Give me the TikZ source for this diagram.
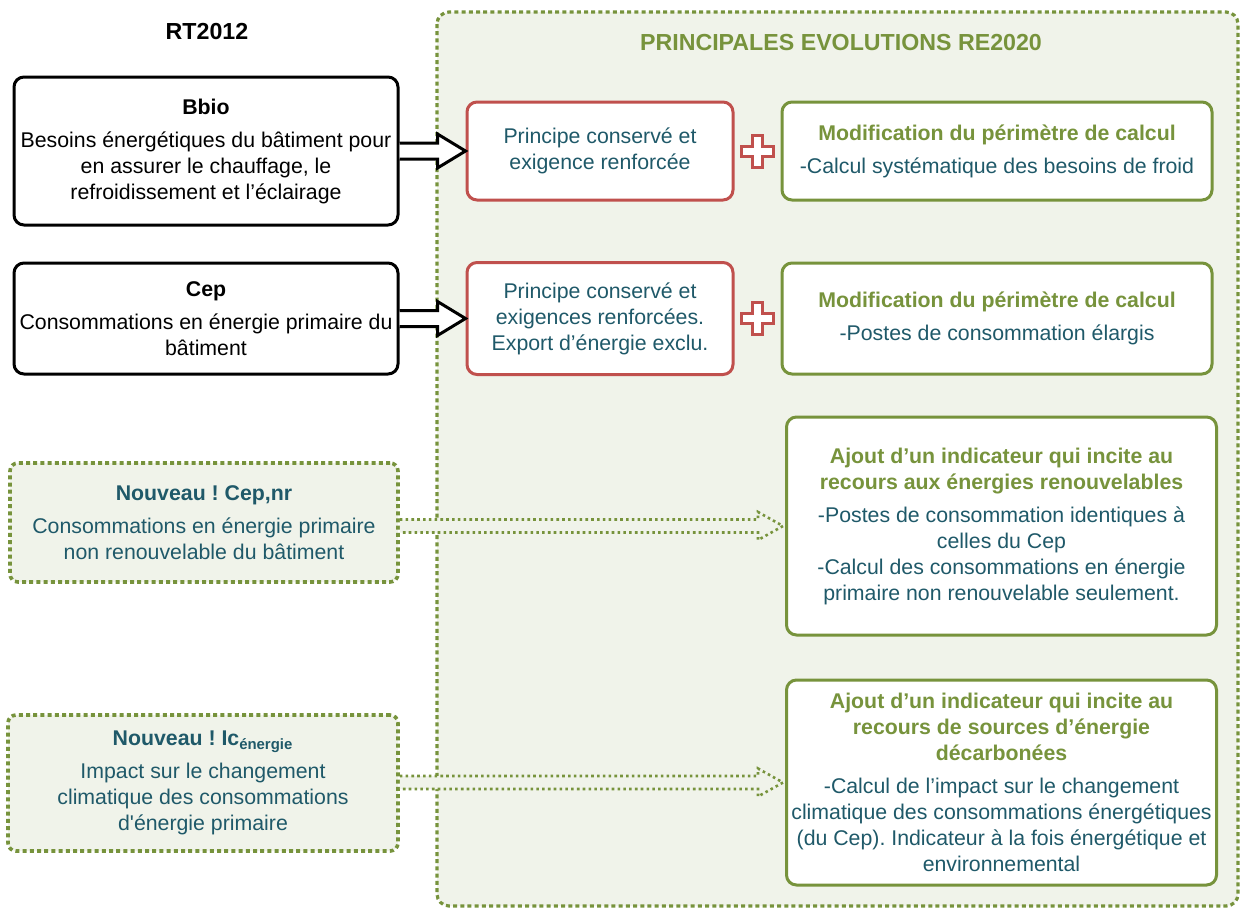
\documentclass[tikz,border=0pt]{standalone}
\usepackage{fontspec}
\setmainfont{Liberation Sans}
\usetikzlibrary{positioning, calc}
\definecolor{vertre}{RGB}{119,147,60}
\definecolor{rougert}{RGB}{192,80,77}
\definecolor{bleutxt}{RGB}{31,89,105}
\definecolor{fondvert}{RGB}{240,243,234}
\newcommand{\vtitre}[1]{{\bfseries\color{vertre}#1}}
\frenchspacing

\begin{document}
\begin{tikzpicture}[
    x=0.5pt, y=-0.5pt,
    font=\fontsize{10.65}{13}\selectfont,
    every node/.style={align=center, inner sep=0pt},
    titre/.style={font=\fontsize{11.6}{14}\selectfont\bfseries},
    ancien/.style={draw=black, line width=1.5pt, rounded corners=5pt, fill=white, minimum width=192pt},
    exigence/.style={draw=rougert, line width=1.5pt, rounded corners=5pt, fill=white, text=bleutxt, minimum width=133pt},
    evolution/.style={draw=vertre, line width=1.5pt, rounded corners=5pt, fill=white, text=bleutxt, minimum width=215pt},
    nouveau/.style={draw=vertre, line width=1.8pt, dash pattern=on 2pt off 1.6pt, rounded corners=4pt, fill=fondvert, text=bleutxt},
    panneau/.style={draw=vertre, line width=1.6pt, dash pattern=on 2pt off 1.6pt, rounded corners=6pt, fill=fondvert},
    grosse fleche/.style={draw=black, line width=1.5pt, fill=white},
    fleche pointillee/.style={draw=vertre, line width=1.3pt, dash pattern=on 1.3pt off 1.6pt, fill=fondvert},
    croix/.pic={\draw[rougert, line width=1.5pt, fill=white] (5,-16) -- (5,-5) -- (16,-5) -- (16,5) -- (5,5) -- (5,16) -- (-5,16) -- (-5,5) -- (-16,5) -- (-16,-5) -- (-5,-5) -- (-5,-16) -- cycle;}
]
   \useasboundingbox (0,0) rectangle (1240,910);

   % RE2020 panel
   \draw[panneau] (437,12) rectangle (1238,906);

   % Headings
   \node[titre] (rt) at (207,32) {RT2012};
   \node[titre, text=vertre] (re) at (841,43) {PRINCIPALES EVOLUTIONS RE2020};

   % RT2012 indicators
   \node[ancien, minimum height=74pt] (bbio) at (206,151) {{\bfseries Bbio}\\[3.5pt]
      Besoins énergétiques du bâtiment pour\\ en assurer le chauffage, le\\ refroidissement et l’éclairage};
   \node[ancien, minimum height=55.5pt] (cep) at (206,318.5) {{\bfseries Cep}\\[3.5pt]
      Consommations en énergie primaire du\\ bâtiment};

   % New indicators
   \node[nouveau, minimum width=194pt, minimum height=59.5pt] (cepnr) at (204,522.5) {{\bfseries Nouveau ! Cep,nr}\\[3.5pt]
      Consommations en énergie primaire\\ non renouvelable du bâtiment};
   \node[nouveau, minimum width=195pt, minimum height=68pt] (ic) at (203,783) {{\bfseries Nouveau ! Ic\textsubscript{énergie}}\\[3.5pt]
      Impact sur le changement\\ climatique des consommations\\ d\textquotesingle énergie primaire};

   % Requirements
   \node[exigence, minimum height=49pt] (rouge1) [right=33pt of bbio] {Principe conservé et\\ exigence renforcée};
   \node[exigence, minimum height=56pt] (rouge2) [right=33pt of cep] {Principe conservé et\\ exigences renforcées.\\ Export d’énergie exclu.};

   % Evolutions
   \node[evolution, minimum height=49pt] (vert1) [right=23pt of rouge1] {\vtitre{Modification du périmètre de calcul}\\[3.5pt]
      -Calcul systématique des besoins de froid};
   \node[evolution, minimum height=55.5pt] (vert2) [right=23pt of rouge2] {\vtitre{Modification du périmètre de calcul}\\[3.5pt]
      -Postes de consommation élargis};
   \node[evolution, minimum height=109pt] (vert3) at (1001.5,526) {\vtitre{Ajout d’un indicateur qui incite au}\\ \vtitre{recours aux énergies renouvelables}\\[3.5pt]
      -Postes de consommation identiques à\\ celles du Cep\\ -Calcul des consommations en énergie\\ primaire non renouvelable seulement.};
   \node[evolution, minimum height=102.5pt] (vert4) at (1001.5,782.5) {\vtitre{Ajout d’un indicateur qui incite au}\\ \vtitre{recours de sources d’énergie}\\ \vtitre{décarbonées}\\[3.5pt]
      -Calcul de l’impact sur le changement\\ climatique des consommations énergétiques\\ (du Cep). Indicateur à la fois énergétique et\\ environnemental};

   % Plus signs
   \foreach \r/\v in {rouge1/vert1, rouge2/vert2}
      \pic at ($(\r.east)!0.5!(\v.west)$) {croix};

   % Hollow arrows
   \foreach \a/\b in {bbio/rouge1, cep/rouge2}
      \draw[grosse fleche] let \p1=(\a.east), \p2=(\b.west) in
         (\x1,\y1+4pt) -- (\x2-14pt,\y1+4pt) -- (\x2-14pt,\y1+8.5pt) -- (\x2,\y1)
         -- (\x2-14pt,\y1-8.5pt) -- (\x2-14pt,\y1-4pt) -- (\x1,\y1-4pt);

   % Dotted arrows
   \foreach \a/\b in {cepnr/vert3, ic/vert4}
      \draw[fleche pointillee] let \p1=(\a.east), \p2=(\b.west) in
         (\x1,\y2+3.25pt) -- (\x2-13.5pt,\y2+3.25pt) -- (\x2-13.5pt,\y2+7pt) -- (\x2-1pt,\y2)
         -- (\x2-13.5pt,\y2-7pt) -- (\x2-13.5pt,\y2-3.25pt) -- (\x1,\y2-3.25pt);
\end{tikzpicture}
\end{document}
